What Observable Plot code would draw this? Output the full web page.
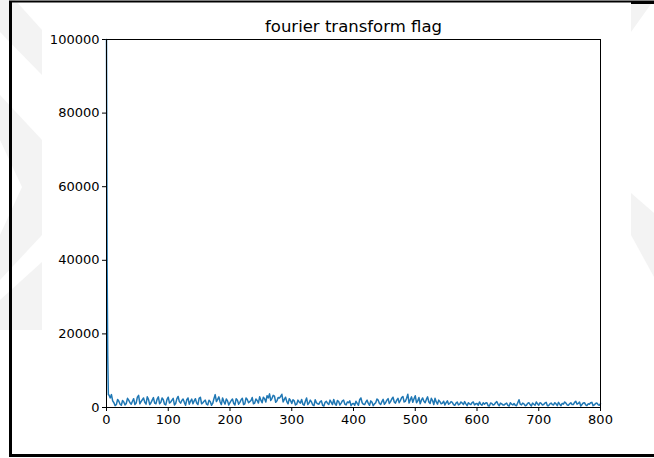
<!DOCTYPE html>
<html>
<head>
<meta charset="utf-8">
<script src="https://cdn.jsdelivr.net/npm/d3@7"></script>
<script src="https://cdn.jsdelivr.net/npm/@observablehq/plot@0.6"></script>
<style>
  html, body { margin: 0; padding: 0; background: #fff; }
  #wrap { position: relative; width: 654px; height: 458px; overflow: hidden; }
  #bg, #chart { position: absolute; left: 0; top: 0; }
</style>
</head>
<body>
<div id="wrap">
  <svg id="bg" width="654" height="458"></svg>
  <div id="chart"></div>
</div>
<script>
const title = "fourier transform flag";
const xTicks = [0, 100, 200, 300, 400, 500, 600, 700, 800];
const yTicks = [0, 20000, 40000, 60000, 80000, 100000];

// Initial spike (frequency bins 0..3)
const spikeX = [0, 1, 2, 3];
const spikeY = [100000, 38000, 14000, 3500];

// Magnitudes at bins 4, 8, 12, ..., 800
const evenStart = 4;
const evenY = [
  3400, 3500, 1300, 800, 1700, 600, 1500, 1100, 2000, 900,
  2400, 1200, 3300, 1600, 2600, 900, 2200, 1300, 2700, 1000,
  2900, 1400, 2100, 700, 2800, 1500, 2500, 1100, 3000, 1200,
  2300, 600, 2600, 1700, 1000, 2400, 800, 2800, 1300, 2000,
  700, 1600, 1100, 3500, 2200, 1500, 2600, 900, 1800, 1300,
  2300, 700, 2000, 1400, 2500, 1000, 2200, 1600, 2700, 1200,
  1900, 2900, 1300, 2400, 3200, 3700, 2500, 3100, 1800, 2600,
  3600, 2200, 1600, 2400, 1100, 1800, 900, 1500, 2200, 600,
  2600, 1200, 1500, 500, 1300, 900, 1800, 400, 1700, 800,
  1400, 2200, 600, 1600, 1200, 2000, 700, 1300, 500, 1100,
  1700, 600, 2600, 900, 1500, 1100, 1800, 500, 1300, 2000,
  800, 2200, 1300, 2400, 1600, 2800, 1200, 2500, 1900, 3000,
  1700, 3600, 2100, 1400, 3200, 1800, 1000, 2600, 1300, 2900,
  1100, 1900, 2500, 900, 1600, 1200, 700, 1800, 1100, 1400,
  600, 1500, 900, 1200, 1600, 500, 1000, 1300, 700, 1100,
  1500, 600, 900, 1300, 400, 1100, 800, 1600, 500, 1000,
  700, 1200, 400, 900, 1100, 500, 2100, 700, 1000, 600,
  1300, 400, 900, 1500, 600, 1100, 800, 1400, 500, 1200,
  700, 1000, 1400, 500, 900, 1200, 600, 1300, 800, 1700,
  1100, 400, 1200, 700, 1000, 1300, 500, 1100, 800, 1000
];
// Magnitudes at bins 6, 10, 14, ..., 798
const oddStart = 6;
const oddY = [
  2600, 1800, 500, 2200, 900, 1900, 700, 2500, 1300, 1700,
  800, 2800, 1000, 2100, 1400, 2900, 800, 2000, 1200, 2300,
  1000, 2600, 900, 2200, 1200, 2000, 700, 2400, 1600, 1900,
  1400, 2100, 900, 2300, 1800, 1200, 2500, 1000, 1700, 900,
  2000, 600, 2400, 1600, 2900, 800, 1600, 2300, 700, 1900,
  1100, 2400, 900, 2100, 800, 2600, 1300, 1900, 1000, 2300,
  1200, 2000, 2800, 1500, 2600, 1900, 3300, 1400, 2700, 3000,
  1500, 2800, 1000, 1900, 2100, 700, 2000, 1200, 900, 1700,
  800, 2000, 700, 2100, 1000, 1600, 600, 1400, 1100, 2000,
  800, 1000, 1900, 700, 1800, 900, 1500, 1800, 1000, 600,
  1100, 2100, 1300, 800, 2000, 600, 1400, 1000, 2300, 1100,
  1600, 900, 2000, 1100, 2300, 1500, 2000, 1300, 2700, 1500,
  2500, 1200, 2900, 2400, 1300, 2700, 2000, 1700, 2200, 1500,
  2500, 800, 1500, 2000, 1000, 1700, 1300, 900, 1600, 800,
  1200, 700, 1500, 800, 1000, 1300, 800, 1500, 1000, 600,
  900, 1300, 1200, 500, 1200, 700, 1300, 900, 1200, 700,
  1000, 600, 1300, 700, 600, 1300, 900, 1200, 500, 1100,
  800, 1200, 600, 1000, 1300, 700, 1200, 500, 1000, 800,
  1300, 500, 900, 1100, 1500, 700, 1000, 800, 1400, 900,
  1500, 800, 1300, 500, 900, 1400, 700, 1200, 600
];
const step = 4;

const data = spikeX.map((x, i) => ({x, y: spikeY[i]}))
  .concat(evenY.map((y, i) => ({x: evenStart + i * step, y})))
  .concat(oddY.map((y, i) => ({x: oddStart + i * step, y})))
  .sort((a, b) => a.x - b.x);

// Background decoration (page watermark + page frame)
const bg = d3.select("#bg");
const gray = "#f3f3f3";
const wm = [
  [[0,0],[15,0],[42,30],[42,75],[0,32]],
  [[0,95],[42,140],[42,235],[0,280],[0,235],[22,187],[0,140]],
  [[0,300],[42,262],[42,330],[0,330]],
  [[631,4],[651,4],[631,32]],
  [[631,193],[654,213],[654,277],[631,235]]
];
wm.forEach(p => bg.append("polygon").attr("points", p.map(d => d.join(",")).join(" ")).attr("fill", gray));
bg.append("line").attr("x1", 10.5).attr("x2", 10.5).attr("y1", 1).attr("y2", 457).attr("stroke", "#000").attr("stroke-width", 3);
bg.append("line").attr("x1", 9).attr("x2", 654).attr("y1", 1.5).attr("y2", 1.5).attr("stroke", "#000").attr("stroke-width", 2);
bg.append("line").attr("x1", 631).attr("x2", 654).attr("y1", 2.5).attr("y2", 2.5).attr("stroke", "#000").attr("stroke-width", 3);
bg.append("line").attr("x1", 9).attr("x2", 654).attr("y1", 455.5).attr("y2", 455.5).attr("stroke", "#000").attr("stroke-width", 3);

const chart = Plot.plot({
  width: 654,
  height: 458,
  marginLeft: 106,
  marginRight: 54,
  marginTop: 39,
  marginBottom: 51,
  style: {background: "transparent", fontFamily: "DejaVu Sans", fontSize: "13px", color: "#000"},
  x: {domain: [0, 800], ticks: xTicks, tickFormat: d3.format("d"), label: null, tickSize: 4, tickPadding: 3},
  y: {domain: [0, 100000], ticks: yTicks, tickFormat: d3.format("d"), label: null, tickSize: 4, tickPadding: 3},
  marks: [
    Plot.line(data, {x: "x", y: "y", stroke: "#1f77b4", strokeWidth: 1.5}),
    Plot.frame({stroke: "#000", strokeWidth: 1}),
    Plot.text([title], {frameAnchor: "top", lineAnchor: "bottom", dy: -8, fontSize: 16.5, fill: "#000"})
  ]
});
document.getElementById("chart").appendChild(chart);
</script>
</body>
</html>
